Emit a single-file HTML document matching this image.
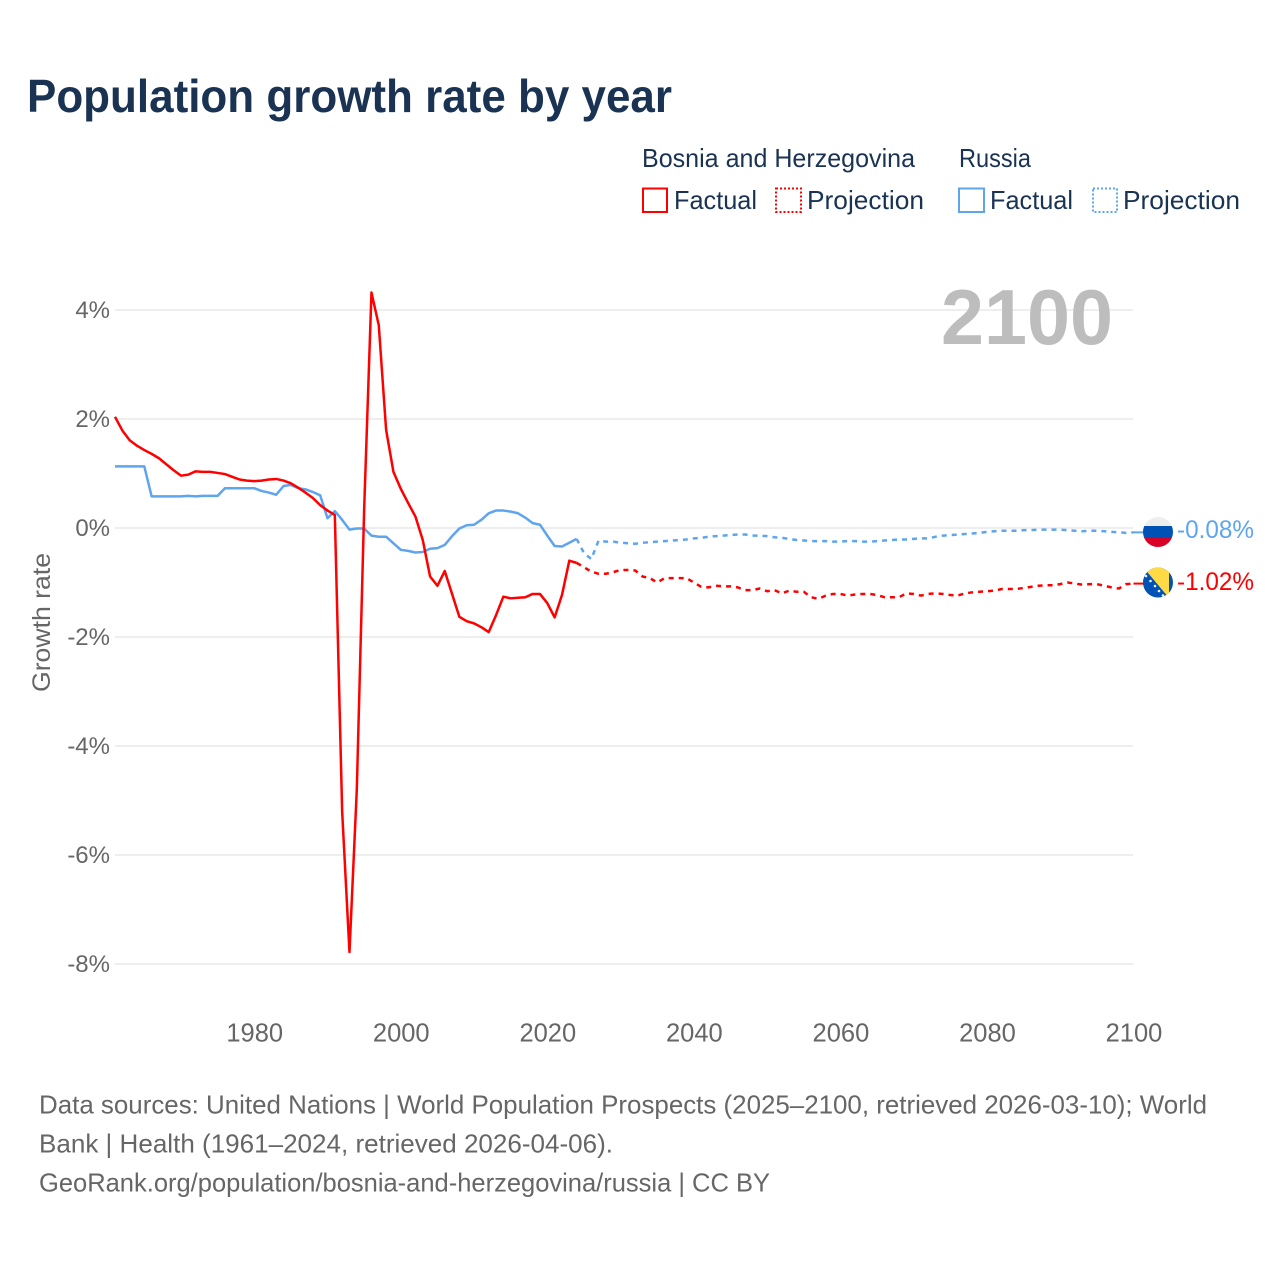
<!DOCTYPE html>
<html lang="en">
<head>
<meta charset="utf-8">
<title>Population growth rate by year</title>
<style>
html,body{margin:0;padding:0;background:#fff;width:1280px;height:1280px;overflow:hidden}
svg{display:block}
text{font-family:"Liberation Sans",Arial,sans-serif}
</style>
</head>
<body>
<svg id="chart" xmlns="http://www.w3.org/2000/svg" width="1280" height="1280" viewBox="0 0 1280 1280">
  <defs>
    <clipPath id="flag-clip-ru"><circle cx="1158" cy="532" r="15"/></clipPath>
    <clipPath id="flag-clip-ba"><circle cx="1158" cy="582.5" r="15"/></clipPath>
  </defs>
  <rect width="1280" height="1280" fill="#fff"/>

  <text x="27" y="112" font-size="46" font-weight="700" fill="#1a3353" textLength="645" lengthAdjust="spacingAndGlyphs">Population growth rate by year</text>

  <g font-size="26" fill="#1a3353">
    <text x="642" y="167" textLength="273" lengthAdjust="spacingAndGlyphs">Bosnia and Herzegovina</text>
    <text x="959" y="167" textLength="72" lengthAdjust="spacingAndGlyphs">Russia</text>

    <rect x="643" y="188.5" width="24" height="23.5" fill="none" stroke="#ff0000" stroke-width="2"/>
    <text x="674" y="209" textLength="83" lengthAdjust="spacingAndGlyphs">Factual</text>
    <rect x="776" y="188.5" width="25" height="23.5" fill="none" stroke="#ff0000" stroke-width="2" stroke-dasharray="2 2"/>
    <text x="807" y="209" textLength="117" lengthAdjust="spacingAndGlyphs">Projection</text>

    <rect x="959" y="188.5" width="25" height="23.5" fill="none" stroke="#5ea5ee" stroke-width="2"/>
    <text x="990" y="209" textLength="83" lengthAdjust="spacingAndGlyphs">Factual</text>
    <rect x="1093" y="188.5" width="24" height="23.5" fill="none" stroke="#5ea5ee" stroke-width="2" stroke-dasharray="2 2"/>
    <text x="1123" y="209" textLength="117" lengthAdjust="spacingAndGlyphs">Projection</text>
  </g>

  <g id="grid"></g>
  <g id="y-axis"></g>
  <g id="x-axis"></g>

  <text x="941" y="344" font-size="78" font-weight="700" fill="#bdbdbd" textLength="172" lengthAdjust="spacingAndGlyphs">2100</text>
  <text transform="translate(50,692) rotate(-90)" font-size="25" fill="#666" textLength="139" lengthAdjust="spacingAndGlyphs">Growth rate</text>

  <g id="series"></g>

  <g clip-path="url(#flag-clip-ru)">
    <rect x="1143" y="517" width="30" height="30" fill="#eeeeee"/>
    <rect x="1143" y="526" width="30" height="11" fill="#0052b4"/>
    <rect x="1143" y="537" width="30" height="10" fill="#d80027"/>
  </g>
  <g clip-path="url(#flag-clip-ba)">
    <rect x="1143" y="567" width="30" height="31" fill="#0052b4"/>
    <polygon points="1143,567 1169,567 1169,598" fill="#ffda44"/>
    <g fill="#f0f0f0">
      <circle cx="1146" cy="576" r="1.3"/><circle cx="1150.5" cy="581" r="1.3"/><circle cx="1155" cy="586" r="1.3"/>
      <circle cx="1159" cy="591" r="1.3"/><circle cx="1163" cy="595.5" r="1.3"/>
    </g>
  </g>

  <text id="end-label-russia" x="1177" y="538" font-size="25" fill="#5ea5ee" textLength="77" lengthAdjust="spacingAndGlyphs"></text>
  <text id="end-label-bosnia" x="1177" y="590" font-size="25" fill="#ff0000" textLength="77" lengthAdjust="spacingAndGlyphs"></text>

  <g font-size="26" fill="#666">
    <text x="39" y="1113.5" textLength="1168" lengthAdjust="spacingAndGlyphs">Data sources: United Nations | World Population Prospects (2025–2100, retrieved 2026-03-10); World</text>
    <text x="39" y="1152.5" textLength="574" lengthAdjust="spacingAndGlyphs">Bank | Health (1961–2024, retrieved 2026-04-06).</text>
    <text x="39" y="1191.5" textLength="731" lengthAdjust="spacingAndGlyphs">GeoRank.org/population/bosnia-and-herzegovina/russia | CC BY</text>
  </g>
</svg>

<script>
const xTickYears = [1980, 2000, 2020, 2040, 2060, 2080, 2100];
const yTickValues = [4, 2, 0, -2, -4, -6, -8];
const factualStartYear = 1961;
const projectionStartYear = 2024;
const bosniaFactual = [
  2.04,1.79,1.61,1.51,1.43,1.36,1.28,1.17,1.06,0.96,
  0.98,1.04,1.03,1.03,1.01,0.99,0.94,0.89,0.87,0.86,
  0.87,0.89,0.90,0.87,0.82,0.74,0.65,0.55,0.42,0.32,
  0.24,-5.2,-7.78,-4.8,0.33,4.32,3.72,1.80,1.03,0.72,
  0.46,0.21,-0.22,-0.89,-1.06,-0.79,-1.21,-1.63,-1.71,-1.75,
  -1.82,-1.91,-1.60,-1.26,-1.29,-1.28,-1.27,-1.21,-1.21,-1.38,
  -1.64,-1.23,-0.60,-0.64
];
const russiaFactual = [
  1.13,1.13,1.13,1.13,1.13,0.58,0.58,0.58,0.58,0.58,
  0.59,0.58,0.59,0.59,0.59,0.73,0.73,0.73,0.73,0.73,
  0.68,0.65,0.61,0.77,0.79,0.73,0.71,0.66,0.60,0.18,
  0.31,0.15,-0.03,-0.01,-0.01,-0.14,-0.16,-0.16,-0.28,-0.40,
  -0.42,-0.45,-0.44,-0.38,-0.37,-0.31,-0.15,-0.01,0.05,0.06,
  0.15,0.27,0.32,0.32,0.30,0.27,0.19,0.09,0.06,-0.14,
  -0.33,-0.34,-0.27,-0.20
];
const bosniaProjection = [
  -0.64,-0.72,-0.80,-0.84,-0.84,-0.81,
  -0.77,-0.77,-0.78,-0.89,-0.92,-1.00,-0.92,-0.92,-0.92,-0.92,
  -1.00,-1.08,-1.09,-1.06,-1.07,-1.07,-1.09,-1.14,-1.14,-1.11,
  -1.16,-1.14,-1.20,-1.15,-1.17,-1.17,-1.27,-1.30,-1.24,-1.21,
  -1.21,-1.24,-1.22,-1.21,-1.21,-1.23,-1.27,-1.27,-1.27,-1.20,
  -1.21,-1.24,-1.21,-1.20,-1.21,-1.23,-1.24,-1.20,-1.18,-1.17,
  -1.16,-1.15,-1.12,-1.12,-1.12,-1.10,-1.08,-1.06,-1.05,-1.05,
  -1.03,-1.00,-1.02,-1.04,-1.03,-1.03,-1.06,-1.09,-1.11,-1.03,
  -1.02
];
const russiaProjection = [
  -0.20,-0.46,-0.57,-0.23,-0.25,-0.25,
  -0.27,-0.28,-0.29,-0.27,-0.26,-0.25,-0.24,-0.23,-0.22,-0.21,
  -0.19,-0.18,-0.16,-0.15,-0.14,-0.13,-0.12,-0.12,-0.14,-0.14,
  -0.15,-0.17,-0.18,-0.20,-0.22,-0.23,-0.24,-0.24,-0.24,-0.25,
  -0.25,-0.24,-0.24,-0.25,-0.25,-0.24,-0.23,-0.22,-0.21,-0.21,
  -0.20,-0.19,-0.19,-0.16,-0.14,-0.13,-0.12,-0.11,-0.10,-0.09,
  -0.07,-0.06,-0.05,-0.05,-0.05,-0.04,-0.04,-0.03,-0.03,-0.03,
  -0.03,-0.04,-0.05,-0.06,-0.05,-0.05,-0.06,-0.07,-0.08,-0.09,
  -0.08
];

const SVG_NS = 'http://www.w3.org/2000/svg';
const RED = '#ff0000';
const BLUE = '#5ea5ee';

function xScale(year) { return 115 + (year - 1961) * (1133.5 - 115) / (2100 - 1961); }
function yScale(value) { return 528 - value * 54.5; }
function pathFrom(values, startYear) {
  return values.map(function (v, i) {
    return (i ? 'L' : 'M') + xScale(startYear + i).toFixed(2) + ' ' + yScale(v).toFixed(2);
  }).join(' ');
}
function addSeries(name, values, startYear, color, dash) {
  const p = document.createElementNS(SVG_NS, 'path');
  
  
  p.setAttribute('d', pathFrom(values, startYear));
  p.setAttribute('fill', 'none');
  p.setAttribute('stroke', color);
  p.setAttribute('stroke-width', '2.5');
  p.setAttribute('stroke-linejoin', 'round');
  if (dash) p.setAttribute('stroke-dasharray', dash);
  document.getElementById('series').appendChild(p);
}
function addLeader(name, value, color) {
  const l = document.createElementNS(SVG_NS, 'line');
  
  
  l.setAttribute('x1', xScale(2100));
  l.setAttribute('x2', xScale(2100) + 12);
  l.setAttribute('y1', yScale(value));
  l.setAttribute('y2', yScale(value));
  l.setAttribute('stroke', color);
  l.setAttribute('stroke-width', '2');
  document.getElementById('series').appendChild(l);
}

yTickValues.forEach(function (v) {
  const g = document.createElementNS(SVG_NS, 'line');
  
  
  g.setAttribute('x1', 115);
  g.setAttribute('x2', 1133);
  g.setAttribute('y1', yScale(v));
  g.setAttribute('y2', yScale(v));
  g.setAttribute('stroke', '#eeeeee');
  g.setAttribute('stroke-width', '2');
  document.getElementById('grid').appendChild(g);

  const t = document.createElementNS(SVG_NS, 'text');
  
  
  t.setAttribute('x', 110);
  t.setAttribute('y', yScale(v) + 8);
  t.setAttribute('text-anchor', 'end');
  t.setAttribute('font-size', '24');
  t.setAttribute('fill', '#666');
  t.textContent = v + '%';
  document.getElementById('y-axis').appendChild(t);
});

xTickYears.forEach(function (yr) {
  const t = document.createElementNS(SVG_NS, 'text');
  
  
  t.setAttribute('x', xScale(yr) + 0.5);
  t.setAttribute('y', 1041.5);
  t.setAttribute('text-anchor', 'middle');
  t.setAttribute('font-size', '25.5');
  t.setAttribute('fill', '#666');
  t.textContent = yr;
  document.getElementById('x-axis').appendChild(t);
});

addSeries('russia-factual-line', russiaFactual, factualStartYear, BLUE);
addSeries('bosnia-factual-line', bosniaFactual, factualStartYear, RED);
addSeries('russia-projection-line', russiaProjection, projectionStartYear, BLUE, '5 5');
addSeries('bosnia-projection-line', bosniaProjection, projectionStartYear, RED, '5 5');
addLeader('russia-end-leader', russiaProjection[russiaProjection.length - 1], BLUE);
addLeader('bosnia-end-leader', bosniaProjection[bosniaProjection.length - 1], RED);

document.getElementById('end-label-russia').textContent = russiaProjection[russiaProjection.length - 1].toFixed(2) + '%';
document.getElementById('end-label-bosnia').textContent = bosniaProjection[bosniaProjection.length - 1].toFixed(2) + '%';
</script>
</body>
</html>
